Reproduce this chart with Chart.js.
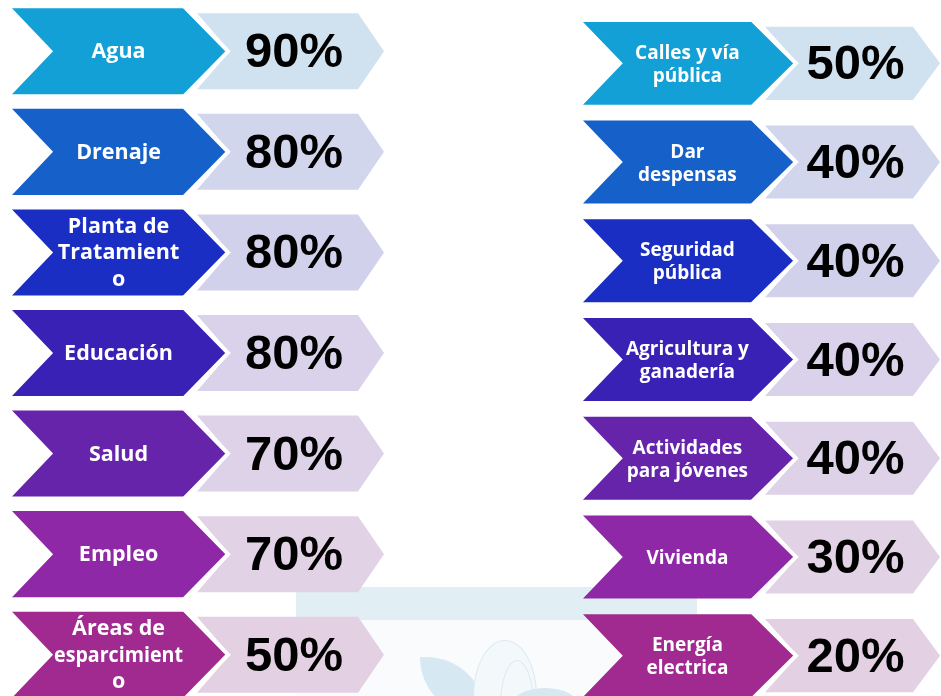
<!DOCTYPE html>
<html lang="es">
<head>
<meta charset="utf-8">
<title>Prioridades</title>
<script src="https://cdn.jsdelivr.net/npm/chart.js@4.4.1/dist/chart.umd.min.js"></script>
<style>
    html, body { margin: 0; padding: 0; background: #ffffff; width: 941px; height: 696px; overflow: hidden; }
    #stage { position: relative; width: 941px; height: 696px; overflow: hidden; }
    .col { position: absolute; top: 0; }
    #col-left { left: 0; }
    #col-right { left: 570px; }
    /* faint picture behind the bottom of the page */
    .wm-band { position: absolute; left: 296px; top: 587px; width: 401px; height: 33px; background: #e1eef4; }
    .wm-panel { position: absolute; left: 296px; top: 620px; width: 401px; height: 76px; background: #f9fbfc; }
    .wm-leaf { position: absolute; left: 420px; top: 657px; width: 66px; height: 60px; background: #d6e8f1; border-radius: 0 70px 0 70px; }
    .wm-ring { position: absolute; left: 473px; top: 640px; width: 62px; height: 110px; border: 1.5px solid #d9eaf2; border-radius: 50%; background: #f3f8fb; }
    .wm-ring-in { position: absolute; left: 500px; top: 660px; width: 32px; height: 90px; border: 1.5px solid #d9eaf2; border-radius: 50%; }
    .wm-leaf2 { position: absolute; left: 510px; top: 688px; width: 70px; height: 40px; background: #d6e8f1; border-radius: 50%; }
</style>
</head>
<body>
<div id="stage">
    <div class="wm-band"></div>
    <div class="wm-panel"></div>
    <div class="wm-leaf"></div>
    <div class="wm-ring"></div>
    <div class="wm-ring-in"></div>
    <div class="wm-leaf2"></div>
    <canvas id="col-left" class="col" width="400" height="705"></canvas>
    <canvas id="col-right" class="col" width="371" height="705"></canvas>
</div>
<script>
// ---- data ----
const temasIzq = [['Agua'], ['Drenaje'], ['Planta de', 'Tratamient', 'o'], ['Educación'], ['Salud'], ['Empleo'], ['Áreas de', 'esparcimient', 'o']];
const valoresIzq = [90, 80, 80, 80, 70, 70, 50];

const temasDer = [['Calles y vía', 'pública'], ['Dar', 'despensas'], ['Seguridad', 'pública'], ['Agricultura y', 'ganadería'], ['Actividades', 'para jóvenes'], ['Vivienda'], ['Energía', 'electrica']];
const valoresDer = [50, 40, 40, 40, 40, 30, 20];

const coloresFuertes = ['#12a0d7', '#1560c9', '#1a2ec4', '#3a21b5', '#6624ab', '#8e28a6', '#a02a8f'];
const coloresSuaves = ['#d0e2f0', '#d1d6ec', '#d2d1ec', '#d9d2ea', '#ddd2e8', '#e2d2e5', '#e3d0e2'];

// Draws every bar as a chevron arrow, using the bar geometry from the scales
const chevronPlugin = {
    id: 'chevrones',
    beforeDatasetDraw(chart, args) {
        const ctx = chart.ctx;
        const ds = chart.data.datasets[args.index];
        ctx.save();
        args.meta.data.forEach((bar, i) => {
            const { x, y, base, height } = bar.getProps(['x', 'y', 'base', 'height'], true);
            const left = Math.min(x, base);
            const right = Math.max(x, base);
            const top = y - height / 2;
            const bottom = y + height / 2;
            const tip = height * ds.tipRatio;
            const notch = height * ds.notchRatio;

            ctx.beginPath();
            ctx.moveTo(left, top);
            ctx.lineTo(right, top);
            ctx.lineTo(right + tip, y);
            ctx.lineTo(right, bottom);
            ctx.lineTo(left, bottom);
            ctx.lineTo(left + notch, y);
            ctx.closePath();
            ctx.fillStyle = ds.backgroundColor[i];
            ctx.fill();

            // white gap only along the arrow point
            if (ds.gapWidth) {
                ctx.beginPath();
                ctx.moveTo(right, top - 2);
                ctx.lineTo(right + tip, y);
                ctx.lineTo(right, bottom + 2);
                ctx.lineWidth = ds.gapWidth;
                ctx.strokeStyle = '#ffffff';
                ctx.stroke();
            }
        });
        ctx.restore();
        return false;
    },
    afterDatasetsDraw(chart) {
        const ctx = chart.ctx;
        const opts = chart.options.plugins.chevrones;
        ctx.save();
        ctx.textAlign = 'center';
        ctx.textBaseline = 'alphabetic';

        // topic names inside the strong arrows
        const metaTema = chart.getDatasetMeta(0);
        const dsTema = chart.data.datasets[0];
        ctx.fillStyle = '#ffffff';
        ctx.font = 'bold ' + opts.labelSize + 'px "Open Sans"';
        metaTema.data.forEach((bar, i) => {
            const { x, y, base, height } = bar.getProps(['x', 'y', 'base', 'height'], true);
            const inner = base + height * dsTema.notchRatio;
            const cx = (inner + x) / 2;
            const lines = chart.data.labels[i];
            const y0 = y - (lines.length - 1) * opts.lineHeight / 2 + 7;
            lines.forEach((line, k) => ctx.fillText(line, cx, y0 + k * opts.lineHeight, x - inner - 2));
        });

        // percentages inside the pale arrows
        const metaValor = chart.getDatasetMeta(1);
        const dsValor = chart.data.datasets[1];
        ctx.fillStyle = '#000000';
        ctx.font = 'bold 49px "Liberation Sans"';
        metaValor.data.forEach((bar, i) => {
            const { x, y, base, height } = bar.getProps(['x', 'y', 'base', 'height'], true);
            const cx = (base + height * dsValor.notchRatio + x) / 2;
            ctx.fillText(dsValor.valores[i] + '%', cx, y + 16);
        });
        ctx.restore();
    }
};

function buildColumn(canvasId, temas, valores, cfg) {
    const ctx = document.getElementById(canvasId).getContext('2d');
    return new Chart(ctx, {
        type: 'bar',
        data: {
            labels: temas,
            datasets: [
                {
                    label: 'Tema',
                    data: temas.map(() => cfg.spanTema),
                    backgroundColor: coloresFuertes,
                    grouped: false,
                    barPercentage: cfg.barTema,
                    categoryPercentage: 1,
                    tipRatio: cfg.tipTema,
                    notchRatio: cfg.notchTema,
                    gapWidth: 4
                },
                {
                    label: 'Porcentaje',
                    data: temas.map(() => cfg.spanValor),
                    valores: valores,
                    backgroundColor: coloresSuaves,
                    grouped: false,
                    barPercentage: cfg.barValor,
                    categoryPercentage: 1,
                    tipRatio: cfg.tipValor,
                    notchRatio: cfg.notchValor
                }
            ]
        },
        options: {
            indexAxis: 'y',
            responsive: false,
            animation: false,
            devicePixelRatio: 1,
            layout: { padding: { top: cfg.padTop, bottom: 0, left: 0, right: 0 } },
            scales: {
                x: { type: 'linear', min: 0, max: 100, display: false },
                y: { type: 'category', display: false, offset: true }
            },
            plugins: {
                legend: { display: false },
                tooltip: { enabled: false },
                chevrones: { lineHeight: cfg.lineHeight, labelSize: cfg.labelSize }
            }
        },
        plugins: [chevronPlugin]
    });
}

buildColumn('col-left', temasIzq, valoresIzq, {
    spanTema: [3, 46], spanValor: [49.25, 89.5],
    barTema: 0.856, barValor: 0.756,
    tipTema: 0.512, notchTema: 0.477,
    tipValor: 0.342, notchValor: 0.434,
    padTop: 1, lineHeight: 26.5, labelSize: 21.5
});

buildColumn('col-right', temasDer, valoresDer, {
    spanTema: [3.5, 49.06], spanValor: [52.56, 92.45],
    barTema: 0.84, barValor: 0.74,
    tipTema: 0.53, notchTema: 0.48,
    tipValor: 0.37, notchValor: 0.45,
    padTop: 14, lineHeight: 23, labelSize: 19
});
</script>
</body>
</html>
